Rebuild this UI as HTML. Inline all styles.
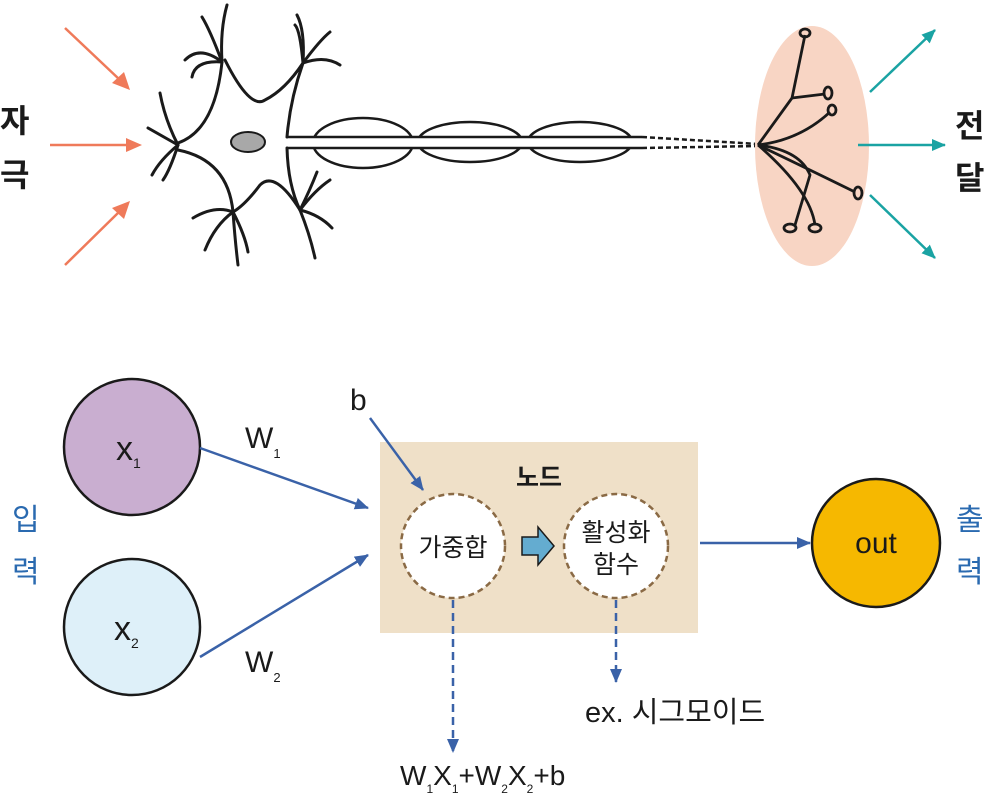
<!DOCTYPE html>
<html><head><meta charset="utf-8"><style>
html,body{margin:0;padding:0;background:#fff}
svg{display:block}
text{font-family:"Liberation Sans","Noto Sans CJK KR",sans-serif;fill:#1a1a1a}
</style></head><body>
<svg width="997" height="794" viewBox="0 0 997 794" xmlns="http://www.w3.org/2000/svg">
<defs>
<marker id="at" markerWidth="14" markerHeight="12" refX="13" refY="6" orient="auto" markerUnits="userSpaceOnUse"><path d="M0,0 L14,6 L0,12z" fill="#1aa3a3"/></marker>
<marker id="ab" markerWidth="14" markerHeight="12" refX="13" refY="6" orient="auto" markerUnits="userSpaceOnUse"><path d="M0,0 L14,6 L0,12z" fill="#3a62a8"/></marker>
</defs>
<g stroke="#ef7a5a" stroke-width="2.5">
<line x1="65" y1="28" x2="120" y2="80"/><line x1="50" y1="145" x2="128" y2="145"/><line x1="65" y1="265" x2="120" y2="211"/>
</g>
<g fill="#ef7a5a"><path d="M130,90 L112,83 L124,72z"/><path d="M142,145 L126,138 L126,152z"/><path d="M130,201 L112,208 L124,219z"/></g>
<text x="0" y="132" font-size="32" font-weight="bold">자</text><text x="0" y="186" font-size="32" font-weight="bold">극</text>
<g fill="none" stroke="#1a1a1a" stroke-width="3" stroke-linecap="round">
<path d="M178,143 Q215,130 222,62"/>
<path d="M225,60 Q250,110 265,100 Q285,90 303,63 Q290,100 287,137"/>
<path d="M287,148 Q288,185 300,210 Q275,170 260,185 Q245,205 233,212 Q228,160 178,150"/>
<path d="M178,145 Q165,120 160,93"/><path d="M178,145 L148,128"/><path d="M178,145 Q160,160 152,175"/><path d="M178,145 Q170,170 163,180"/>
<path d="M222,62 Q220,30 227,5"/><path d="M222,62 Q210,30 202,17"/><path d="M222,62 Q200,45 185,60"/><path d="M222,62 Q195,60 192,77"/>
<path d="M303,63 Q300,30 295,25"/><path d="M303,63 Q305,30 297,15"/><path d="M303,63 Q320,40 330,32"/><path d="M303,63 Q325,55 340,65"/>
<path d="M233,212 Q215,205 193,218"/><path d="M233,212 Q215,225 205,250"/><path d="M233,212 Q235,240 238,265"/><path d="M233,212 Q245,235 248,252"/>
<path d="M300,210 Q310,190 317,172"/><path d="M300,210 Q315,190 330,180"/><path d="M300,210 Q320,215 332,228"/><path d="M300,210 Q310,235 315,258"/>
</g>
<ellipse cx="248" cy="142" rx="17" ry="10" fill="#a8a8a8" stroke="#1a1a1a" stroke-width="2"/>
<g fill="none" stroke="#1a1a1a" stroke-width="2.5">
<ellipse cx="363" cy="143" rx="50" ry="25"/><ellipse cx="470" cy="142" rx="52" ry="20"/><ellipse cx="580" cy="142" rx="52" ry="20"/>
</g>
<rect x="288" y="138" width="356" height="9" fill="#fff"/>
<g stroke="#1a1a1a" stroke-width="2.5">
<line x1="287" y1="137" x2="642" y2="137"/><line x1="287" y1="148" x2="642" y2="148"/>
<line x1="642" y1="137" x2="758" y2="144" stroke-dasharray="5,3"/><line x1="642" y1="148" x2="758" y2="146" stroke-dasharray="5,3"/>
</g>
<ellipse cx="812" cy="146" rx="57" ry="120" fill="#f8d5c4"/>
<g fill="none" stroke="#1a1a1a" stroke-width="2.8">
<path d="M758,145 L792,98 L805,35"/><path d="M792,98 L825,94"/><path d="M758,145 Q800,140 830,112"/>
<path d="M758,145 Q800,150 810,175 L795,225"/><path d="M758,145 Q800,165 855,192"/><path d="M758,145 Q810,190 815,225"/>
<ellipse cx="805" cy="33" rx="5" ry="4"/><ellipse cx="828" cy="93" rx="4" ry="6"/><ellipse cx="832" cy="110" rx="4" ry="5"/>
<ellipse cx="858" cy="193" rx="4" ry="6"/><ellipse cx="790" cy="228" rx="6" ry="4"/><ellipse cx="815" cy="228" rx="6" ry="4"/>
</g>
<g stroke="#1aa3a3" stroke-width="2.5">
<line x1="870" y1="92" x2="935" y2="30" marker-end="url(#at)"/><line x1="858" y1="145" x2="945" y2="145" marker-end="url(#at)"/><line x1="870" y1="195" x2="935" y2="258" marker-end="url(#at)"/>
</g>
<text x="955" y="137" font-size="32" font-weight="bold">전</text><text x="955" y="189" font-size="32" font-weight="bold">달</text>
<rect x="380" y="442" width="318" height="191" fill="#efe0c8"/>
<circle cx="132" cy="447" r="68" fill="#c9aed0" stroke="#1a1a1a" stroke-width="2.5"/>
<circle cx="132" cy="627" r="68" fill="#def0f9" stroke="#1a1a1a" stroke-width="2.5"/>
<circle cx="876" cy="543" r="64" fill="#f6b800" stroke="#1a1a1a" stroke-width="2.5"/>
<circle cx="453" cy="546" r="52" fill="#fff" stroke="#8a6a45" stroke-width="2.5" stroke-dasharray="6,4"/>
<circle cx="616" cy="546" r="52" fill="#fff" stroke="#8a6a45" stroke-width="2.5" stroke-dasharray="6,4"/>
<path d="M522,537 L538,537 L538,527 L554,546 L538,565 L538,555 L522,555z" fill="#64acd0" stroke="#1a1a1a" stroke-width="1.5"/>
<g stroke="#3a62a8" stroke-width="2.5">
<line x1="200" y1="448" x2="368" y2="508" marker-end="url(#ab)"/><line x1="200" y1="657" x2="368" y2="555" marker-end="url(#ab)"/>
<line x1="370" y1="418" x2="423" y2="490" marker-end="url(#ab)"/><line x1="700" y1="543" x2="810" y2="543" marker-end="url(#ab)"/>
<line x1="453" y1="600" x2="453" y2="752" stroke-dasharray="8,5" marker-end="url(#ab)"/><line x1="616" y1="600" x2="616" y2="682" stroke-dasharray="8,5" marker-end="url(#ab)"/>
</g>
<text x="116" y="460" font-size="34">x<tspan font-size="14" dy="8">1</tspan></text>
<text x="114" y="640" font-size="34">x<tspan font-size="14" dy="8">2</tspan></text>
<text x="876" y="553" font-size="30" text-anchor="middle">out</text>
<text x="245" y="448" font-size="30">W<tspan font-size="13" dy="10">1</tspan></text>
<text x="245" y="672" font-size="30">W<tspan font-size="13" dy="10">2</tspan></text>
<text x="350" y="410" font-size="30">b</text>
<text x="539" y="486" font-size="25" font-weight="bold" text-anchor="middle">노드</text>
<text x="453" y="556" font-size="25" text-anchor="middle">가중합</text>
<text x="616" y="541" font-size="25" text-anchor="middle">활성화</text>
<text x="616" y="573" font-size="25" text-anchor="middle">함수</text>
<text x="585" y="722" font-size="29">ex. 시그모이드</text>
<text x="400" y="785" font-size="28">W<tspan font-size="12" dy="8">1</tspan><tspan dy="-8">X</tspan><tspan font-size="12" dy="8">1</tspan><tspan dy="-8">+W</tspan><tspan font-size="12" dy="8">2</tspan><tspan dy="-8">X</tspan><tspan font-size="12" dy="8">2</tspan><tspan dy="-8">+b</tspan></text>
<text x="12" y="530" font-size="30" style="fill:#2a6ab0">입</text><text x="12" y="582" font-size="30" style="fill:#2a6ab0">력</text>
<text x="956" y="530" font-size="30" style="fill:#2a6ab0">출</text><text x="956" y="582" font-size="30" style="fill:#2a6ab0">력</text>
</svg>
</body></html>
